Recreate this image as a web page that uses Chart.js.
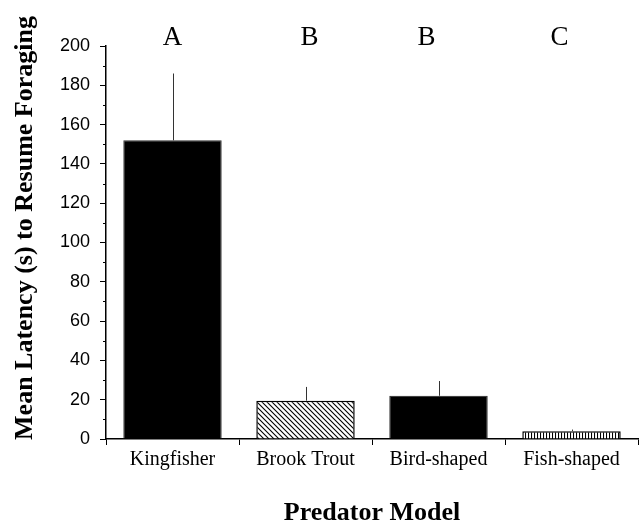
<!DOCTYPE html>
<html>
<head>
<meta charset="utf-8">
<script src="https://cdn.jsdelivr.net/npm/chart.js@4"></script>
<style>
  html, body { margin: 0; padding: 0; background: #fff; }
  #wrap { width: 641px; height: 524px; }
</style>
</head>
<body>
<div id="wrap"><canvas id="latencyChart" width="641" height="524"></canvas></div>
<script>
// values
const models = ['Kingfisher', 'Brook Trout', 'Bird-shaped', 'Fish-shaped'];
const meanLatency = [152, 19.5, 22, 4];
const errorTop = [186, 26.5, 29.5, 4.8];
const groupLetters = ['A', 'B', 'B', 'C'];
const yTicks = [0, 20, 40, 60, 80, 100, 120, 140, 160, 180, 200];

const serif = '"Liberation Serif", "Times New Roman", serif';
const sans = '"Liberation Sans", Arial, sans-serif';

function makePattern(kind) {
    const c = document.createElement('canvas');
    const s = kind === 'diag' ? 5 : 3;
    c.width = s; c.height = s;
    const g = c.getContext('2d');
    g.fillStyle = '#fff';
    g.fillRect(0, 0, s, s);
    g.strokeStyle = '#000';
    g.lineWidth = 1.1;
    g.beginPath();
    if (kind === 'diag') {
        g.moveTo(-1, -1); g.lineTo(s + 1, s + 1);
        g.moveTo(-1, s - 1); g.lineTo(1, s + 1);
        g.moveTo(s - 1, -1); g.lineTo(s + 1, 1);
    } else {
        g.moveTo(0.5, 0); g.lineTo(0.5, s);
    }
    g.stroke();
    return g.createPattern(c, 'repeat');
}

const barFills = ['#000', makePattern('diag'), '#000', makePattern('vert')];

// error bars, minor ticks, letters and y title
const extras = {
    id: 'extras',
    afterDatasetsDraw(chart) {
        const ctx = chart.ctx;
        const x = chart.scales.x, y = chart.scales.y;
        ctx.save();
        ctx.strokeStyle = '#333';
        ctx.lineWidth = 1;
        meanLatency.forEach((v, i) => {
            const px = Math.round(x.getPixelForValue(i)) + 0.5;
            ctx.beginPath();
            ctx.moveTo(px, y.getPixelForValue(v));
            ctx.lineTo(px, y.getPixelForValue(errorTop[i]));
            ctx.stroke();
        });
        // minor ticks every 10
        ctx.strokeStyle = '#000';
        for (let v = 10; v < 200; v += 20) {
            const py = Math.round(y.getPixelForValue(v)) + 0.5;
            ctx.beginPath();
            ctx.moveTo(x.left - 3, py);
            ctx.lineTo(x.left, py);
            ctx.stroke();
        }
        // significance letters
        const letterShift = [0, 4, -12, -12];
        ctx.fillStyle = '#000';
        ctx.font = '27px ' + serif;
        ctx.textAlign = 'center';
        ctx.textBaseline = 'middle';
        groupLetters.forEach((t, i) => {
            ctx.fillText(t, x.getPixelForValue(i) + letterShift[i], 38);
        });
        // y title
        ctx.font = 'bold 26px ' + serif;
        ctx.translate(25, 228);
        ctx.rotate(-Math.PI / 2);
        ctx.fillText('Mean Latency (s) to Resume Foraging', 0, 0);
        ctx.restore();
    }
};

new Chart(document.getElementById('latencyChart'), {
    type: 'bar',
    data: {
        labels: models,
        datasets: [{
            data: meanLatency,
            backgroundColor: barFills,
            borderColor: ['#333', '#000', '#222', '#000'],
            borderWidth: [1, 1.5, 1, 1.5],
            barPercentage: 0.74,
            categoryPercentage: 1
        }]
    },
    options: {
        responsive: false,
        animation: false,
        layout: { padding: { top: 46, right: 3, left: 0, bottom: 0 } },
        plugins: { legend: { display: false }, tooltip: { enabled: false } },
        scales: {
            x: {
                grid: { drawOnChartArea: false, drawTicks: true, tickLength: 6, color: '#000' },
                border: { display: true, color: '#000', width: 1.5 },
                ticks: { color: '#000', font: { family: serif, size: 20 }, padding: 3 },
                title: {
                    display: true, text: 'Predator Model', color: '#000',
                    font: { family: serif, size: 26, weight: 'bold', lineHeight: 0.8 },
                    padding: 0
                },
                afterFit(scale) { scale.height = 85; }
            },
            y: {
                min: 0, max: 200,
                afterBuildTicks(scale) { scale.ticks = yTicks.map(v => ({ value: v })); },
                grid: { drawOnChartArea: false, drawTicks: true, tickLength: 6, color: '#000' },
                border: { display: true, color: '#000', width: 1.5 },
                ticks: { color: '#000', font: { family: sans, size: 18 }, padding: 10 },
                afterFit(scale) { scale.width = 106; }
            }
        }
    },
    plugins: [extras]
});
</script>
</body>
</html>
